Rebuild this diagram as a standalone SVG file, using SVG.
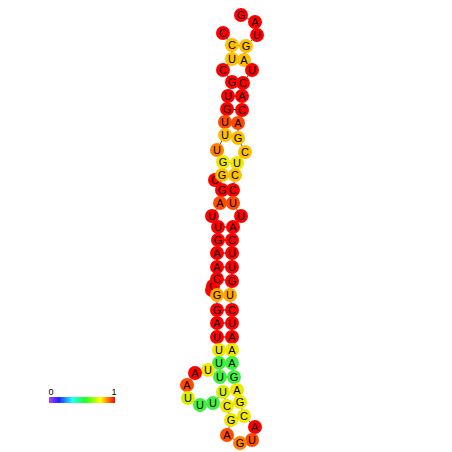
<svg xmlns="http://www.w3.org/2000/svg" width="452" height="452" viewBox="0 0 452 452">
<defs>
<linearGradient id="rainbow" x1="0" y1="0" x2="1" y2="0">
<stop offset="0" stop-color="#b040ff"/>
<stop offset="0.15" stop-color="#2020ff"/>
<stop offset="0.35" stop-color="#20ffff"/>
<stop offset="0.55" stop-color="#20ff20"/>
<stop offset="0.78" stop-color="#ffff00"/>
<stop offset="1" stop-color="#ff0000"/>
</linearGradient>
</defs>
<style>
.bb{stroke:#555;stroke-width:1;fill:none}
.bp{stroke:#000;stroke-width:1}
circle{r:7px}
text{font-family:"Liberation Sans",Arial,sans-serif;font-size:11px;text-anchor:middle;dominant-baseline:central;fill:#000}
.r{fill:#ff0000}.ro{fill:#ff4a00}.o{fill:#ff8000}.oy{fill:#ffa800}.yo{fill:#ffc000}.y{fill:#f0e800}.yg{fill:#d8f000}.g{fill:#40f040}
.lg{font-size:9px}
</style>
<rect width="452" height="452" fill="#fff"/>
<g id="connectors">
<polyline class="bb" points="220,377 219,363 219,350 217,337 217,323 217,310 217,295 212,290 213,286 217,279 217,267 217,253 218,240 218,227 212,216 220,203 222,190 215,180 222,175 223,162 217,150 225,135 225,122 227,109 228,96 232,82 223,70 232,59 232,45 223,33"/>
<polyline class="bb" points="241,15 255,22 257,35 246,46 244,60 252,70 243,83 242,96 242,110 238,123 238,138 245,152 237,163 235,175 233,190 233,203 241,216 233,227 232,240 232,253 232,267 232,281 230,295 232,310 232,323 232,337 232,350 232,363 234,377 237,390 240,402 244,416 255,427 252,440 240,443 227,435 231,420 227,406 223,392 213,403 200,405 188,398 187,385 195,373 208,370 220,377"/>
<line class="bp" x1="232" y1="45" x2="246" y2="46"/>
<line class="bp" x1="232" y1="59" x2="244" y2="60"/>
<line class="bp" x1="232" y1="82" x2="243" y2="83"/>
<line class="bp" x1="228" y1="96" x2="242" y2="96"/>
<line class="bp" x1="227" y1="109" x2="242" y2="110"/>
<line class="bp" x1="225" y1="122" x2="238" y2="123"/>
<line class="bp" x1="225" y1="135" x2="238" y2="138"/>
<line class="bp" x1="223" y1="162" x2="237" y2="163"/>
<line class="bp" x1="222" y1="175" x2="235" y2="175"/>
<line class="bp" x1="222" y1="190" x2="233" y2="190"/>
<line class="bp" x1="220" y1="203" x2="233" y2="203"/>
<line class="bp" x1="218" y1="227" x2="233" y2="227"/>
<line class="bp" x1="218" y1="240" x2="232" y2="240"/>
<line class="bp" x1="217" y1="253" x2="232" y2="253"/>
<line class="bp" x1="217" y1="267" x2="232" y2="267"/>
<line class="bp" x1="217" y1="279" x2="232" y2="281"/>
<line class="bp" x1="217" y1="295" x2="230" y2="295"/>
<line class="bp" x1="217" y1="310" x2="232" y2="310"/>
<line class="bp" x1="217" y1="323" x2="232" y2="323"/>
<line class="bp" x1="217" y1="337" x2="232" y2="337"/>
<line class="bp" x1="219" y1="350" x2="232" y2="350"/>
<line class="bp" x1="219" y1="363" x2="232" y2="363"/>
<line class="bp" x1="220" y1="377" x2="234" y2="377"/>
<line class="bp" x1="240" y1="402" x2="227" y2="406"/>
<line class="bp" x1="244" y1="416" x2="231" y2="420"/>
</g>
<g id="n1"><circle class="r" cx="223" cy="33"/><text x="223" y="33">C</text></g>
<g id="n2"><circle class="r" cx="241" cy="15"/><text x="241" y="15">G</text></g>
<g id="n3"><circle class="r" cx="255" cy="22"/><text x="255" y="22">A</text></g>
<g id="n4"><circle class="r" cx="257" cy="35"/><text x="257" y="35">U</text></g>
<g id="n5"><circle class="yo" cx="232" cy="45"/><text x="232" y="45">C</text></g>
<g id="n6"><circle class="yo" cx="246" cy="46"/><text x="246" y="46">G</text></g>
<g id="n7"><circle class="yo" cx="232" cy="59"/><text x="232" y="59">U</text></g>
<g id="n8"><circle class="yo" cx="244" cy="60"/><text x="244" y="60">A</text></g>
<g id="n9"><circle class="r" cx="223" cy="70"/><text x="223" y="70">C</text></g>
<g id="n10"><circle class="r" cx="252" cy="70"/><text x="252" y="70">U</text></g>
<g id="n11"><circle class="r" cx="232" cy="82"/><text x="232" y="82">G</text></g>
<g id="n12"><circle class="r" cx="243" cy="83"/><text x="243" y="83">C</text></g>
<g id="n13"><circle class="r" cx="228" cy="96"/><text x="228" y="96">U</text></g>
<g id="n14"><circle class="r" cx="242" cy="96"/><text x="242" y="96">A</text></g>
<g id="n15"><circle class="r" cx="227" cy="109"/><text x="227" y="109">G</text></g>
<g id="n16"><circle class="r" cx="242" cy="110"/><text x="242" y="110">C</text></g>
<g id="n17"><circle class="ro" cx="225" cy="122"/><text x="225" y="122">U</text></g>
<g id="n18"><circle class="ro" cx="238" cy="123"/><text x="238" y="123">A</text></g>
<g id="n19"><circle class="yo" cx="225" cy="135"/><text x="225" y="135">U</text></g>
<g id="n20"><circle class="yo" cx="238" cy="138"/><text x="238" y="138">G</text></g>
<g id="n21"><circle class="o" cx="217" cy="150"/><text x="217" y="150">U</text></g>
<g id="n22"><circle class="yo" cx="245" cy="152"/><text x="245" y="152">C</text></g>
<g id="n23"><circle class="y" cx="223" cy="162"/><text x="223" y="162">G</text></g>
<g id="n24"><circle class="y" cx="237" cy="163"/><text x="237" y="163">U</text></g>
<g id="n25"><circle class="r" cx="215" cy="180"/><text x="215" y="180">C</text></g>
<g id="n26"><circle class="yo" cx="222" cy="175"/><text x="222" y="175">G</text></g>
<g id="n27"><circle class="yo" cx="235" cy="175"/><text x="235" y="175">C</text></g>
<g id="n28"><circle class="r" cx="222" cy="190"/><text x="222" y="190">G</text></g>
<g id="n29"><circle class="r" cx="233" cy="190"/><text x="233" y="190">C</text></g>
<g id="n30"><circle class="ro" cx="220" cy="203"/><text x="220" y="203">A</text></g>
<g id="n31"><circle class="ro" cx="233" cy="203"/><text x="233" y="203">U</text></g>
<g id="n32"><circle class="r" cx="212" cy="216"/><text x="212" y="216">U</text></g>
<g id="n33"><circle class="r" cx="241" cy="216"/><text x="241" y="216">U</text></g>
<g id="n34"><circle class="r" cx="218" cy="227"/><text x="218" y="227">U</text></g>
<g id="n35"><circle class="r" cx="233" cy="227"/><text x="233" y="227">A</text></g>
<g id="n36"><circle class="r" cx="218" cy="240"/><text x="218" y="240">G</text></g>
<g id="n37"><circle class="r" cx="232" cy="240"/><text x="232" y="240">C</text></g>
<g id="n38"><circle class="r" cx="217" cy="253"/><text x="217" y="253">A</text></g>
<g id="n39"><circle class="r" cx="232" cy="253"/><text x="232" y="253">U</text></g>
<g id="n40"><circle class="r" cx="217" cy="267"/><text x="217" y="267">A</text></g>
<g id="n41"><circle class="r" cx="232" cy="267"/><text x="232" y="267">U</text></g>
<g id="n42"><circle class="r" cx="212" cy="290"/><text x="212" y="290">G</text></g>
<g id="n43"><circle class="r" cx="213" cy="286"/><text x="213" y="286">C</text></g>
<g id="n44"><circle class="r" cx="217" cy="279"/><text x="217" y="279">C</text></g>
<g id="n45"><circle class="r" cx="232" cy="281"/><text x="232" y="281">G</text></g>
<g id="n46"><circle class="oy" cx="217" cy="295"/><text x="217" y="295">G</text></g>
<g id="n47"><circle class="oy" cx="230" cy="295"/><text x="230" y="295">U</text></g>
<g id="n48"><circle class="r" cx="217" cy="310"/><text x="217" y="310">G</text></g>
<g id="n49"><circle class="r" cx="232" cy="310"/><text x="232" y="310">C</text></g>
<g id="n50"><circle class="r" cx="217" cy="323"/><text x="217" y="323">A</text></g>
<g id="n51"><circle class="r" cx="232" cy="323"/><text x="232" y="323">U</text></g>
<g id="n52"><circle class="r" cx="217" cy="337"/><text x="217" y="337">U</text></g>
<g id="n53"><circle class="r" cx="232" cy="337"/><text x="232" y="337">A</text></g>
<g id="n54"><circle class="y" cx="219" cy="350"/><text x="219" y="350">U</text></g>
<g id="n55"><circle class="y" cx="232" cy="350"/><text x="232" y="350">A</text></g>
<g id="n56"><circle class="g" cx="219" cy="363"/><text x="219" y="363">U</text></g>
<g id="n57"><circle class="g" cx="232" cy="363"/><text x="232" y="363">A</text></g>
<g id="n58"><circle class="g" cx="220" cy="377"/><text x="220" y="377">U</text></g>
<g id="n59"><circle class="g" cx="234" cy="377"/><text x="234" y="377">G</text></g>
<g id="n60"><circle class="y" cx="208" cy="370"/><text x="208" y="370">U</text></g>
<g id="n61"><circle class="r" cx="195" cy="373"/><text x="195" y="373">A</text></g>
<g id="n62"><circle class="ro" cx="187" cy="385"/><text x="187" y="385">A</text></g>
<g id="n63"><circle class="yg" cx="188" cy="398"/><text x="188" y="398">U</text></g>
<g id="n64"><circle class="g" cx="200" cy="405"/><text x="200" y="405">U</text></g>
<g id="n65"><circle class="g" cx="213" cy="403"/><text x="213" y="403">U</text></g>
<g id="n66"><circle class="yg" cx="223" cy="392"/><text x="223" y="392">U</text></g>
<g id="n67"><circle class="y" cx="237" cy="390"/><text x="237" y="390">A</text></g>
<g id="n68"><circle class="y" cx="240" cy="402"/><text x="240" y="402">G</text></g>
<g id="n69"><circle class="y" cx="227" cy="406"/><text x="227" y="406">C</text></g>
<g id="n70"><circle class="y" cx="244" cy="416"/><text x="244" y="416">C</text></g>
<g id="n71"><circle class="y" cx="231" cy="420"/><text x="231" y="420">G</text></g>
<g id="n72"><circle class="r" cx="255" cy="427"/><text x="255" y="427">A</text></g>
<g id="n73"><circle class="ro" cx="252" cy="440"/><text x="252" y="440">U</text></g>
<g id="n74"><circle class="o" cx="240" cy="443"/><text x="240" y="443">G</text></g>
<g id="n75"><circle class="ro" cx="227" cy="435"/><text x="227" y="435">A</text></g>
<g id="legend">
<rect x="49" y="397" width="66" height="6" fill="url(#rainbow)"/>
<text class="lg" x="51" y="392">0</text>
<text class="lg" x="114" y="392">1</text>
</g>
</svg>
